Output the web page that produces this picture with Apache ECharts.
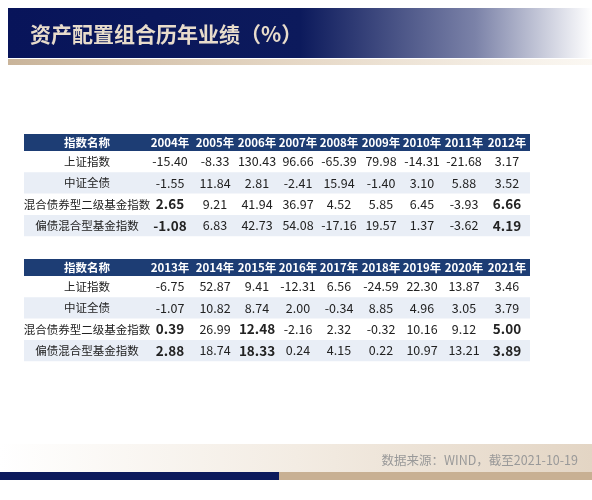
<!DOCTYPE html>
<html>
<head>
<meta charset="utf-8">
<script src="https://cdn.jsdelivr.net/npm/echarts@6/dist/echarts.min.js"></script>
<style>html,body{margin:0;padding:0;background:#fff}#chart{width:592px;height:500px}</style>
</head>
<body>
<div id="chart"></div>
<script>
// 指数名称
const names = ['上证指数', '中证全债', '混合债券型二级基金指数', '偏债混合型基金指数'];

// 第一张表
const years1 = ['2004年', '2005年', '2006年', '2007年', '2008年', '2009年', '2010年', '2011年', '2012年'];
const rows1 = [
	['-15.40', '-8.33', '130.43', '96.66', '-65.39', '79.98', '-14.31', '-21.68', '3.17'],
	['-1.55', '11.84', '2.81', '-2.41', '15.94', '-1.40', '3.10', '5.88', '3.52'],
	['2.65', '9.21', '41.94', '36.97', '4.52', '5.85', '6.45', '-3.93', '6.66'],
	['-1.08', '6.83', '42.73', '54.08', '-17.16', '19.57', '1.37', '-3.62', '4.19']
];
const boldCols1 = [0, 8];

// 第二张表
const years2 = ['2013年', '2014年', '2015年', '2016年', '2017年', '2018年', '2019年', '2020年', '2021年'];
const rows2 = [
	['-6.75', '52.87', '9.41', '-12.31', '6.56', '-24.59', '22.30', '13.87', '3.46'],
	['-1.07', '10.82', '8.74', '2.00', '-0.34', '8.85', '4.96', '3.05', '3.79'],
	['0.39', '26.99', '12.48', '-2.16', '2.32', '-0.32', '10.16', '9.12', '5.00'],
	['2.88', '18.74', '18.33', '0.24', '4.15', '0.22', '10.97', '13.21', '3.89']
];
const boldCols2 = [0, 2, 8];

const titleText = '资产配置组合历年业绩（%）';
const sourceText = '数据来源：WIND，截至2021-10-19';

const FONT = '"Noto Sans CJK SC", "Noto Sans", sans-serif';
const colX = [170, 215, 257, 298, 339, 381, 422, 464, 507];

// 构建一张表
const buildTable = (top, years, rows, boldCols) => {
	let els = [];
	let left = 24, right = 530, headH = 17, rowH = 21.3;

	els.push({ type: 'rect', shape: { x: left, y: top, width: right - left, height: headH }, style: { fill: '#1d3d74' } });
	els.push({ type: 'text', x: 87, y: top + headH / 2, style: { text: '指数名称', fill: '#fff', font: 'bold 11.5px ' + FONT, align: 'center', verticalAlign: 'middle' } });
	years.forEach((y, i) => {
		els.push({ type: 'text', x: colX[i], y: top + headH / 2, style: { text: y, fill: '#fff', font: 'bold 11.5px ' + FONT, align: 'center', verticalAlign: 'middle' } });
	});

	rows.forEach((r, ri) => {
		let y0 = top + headH + ri * rowH;
		if (ri % 2 === 1) {
			els.push({ type: 'rect', shape: { x: left, y: y0, width: right - left, height: rowH }, style: { fill: '#e9eef6' } });
		}
		els.push({ type: 'text', x: 87, y: y0 + rowH / 2, style: { text: names[ri], fill: '#222', font: '11.5px ' + FONT, align: 'center', verticalAlign: 'middle' } });
		r.forEach((v, ci) => {
			let bold = ri >= 2 && boldCols.indexOf(ci) >= 0;
			els.push({
				type: 'text', x: colX[ci], y: y0 + rowH / 2,
				style: { text: v, fill: '#222', font: (bold ? 'bold 13.5px ' : '12.5px ') + FONT, align: 'center', verticalAlign: 'middle' }
			});
		});
	});
	return els;
};

let graphics = [
	// 标题条
	{
		type: 'rect', shape: { x: 8, y: 8, width: 584, height: 50 },
		style: { fill: new echarts.graphic.LinearGradient(0, 0, 1, 0, [
			{ offset: 0, color: '#08145a' }, { offset: 0.5, color: '#0c1a5c' },
			{ offset: 0.8, color: '#7b82a8' }, { offset: 1, color: '#ffffff' }
		]) }
	},
	{
		type: 'rect', shape: { x: 8, y: 59, width: 584, height: 6 },
		style: { fill: new echarts.graphic.LinearGradient(0, 0, 1, 0, [
			{ offset: 0, color: '#c9b49a' }, { offset: 0.5, color: '#e6d8c6' }, { offset: 1, color: '#fbf8f3' }
		]) }
	},
	{ type: 'text', x: 30, y: 34, style: { text: titleText, fill: '#e8dccb', font: 'bold 21px ' + FONT, verticalAlign: 'middle' } },
	// 底部
	{
		type: 'rect', shape: { x: 0, y: 444, width: 592, height: 28 },
		style: { fill: new echarts.graphic.LinearGradient(0, 0, 1, 0, [
			{ offset: 0, color: '#ffffff' }, { offset: 0.5, color: '#f3ece3' }, { offset: 1, color: '#e3d5c4' }
		]) }
	},
	{ type: 'text', x: 578, y: 460, style: { text: sourceText, fill: '#999', font: '12.5px ' + FONT, align: 'right', verticalAlign: 'middle' } },
	{ type: 'rect', shape: { x: 0, y: 472, width: 279, height: 8 }, style: { fill: '#0c1a5c' } },
	{ type: 'rect', shape: { x: 279, y: 472, width: 313, height: 8 }, style: { fill: '#c8b093' } }
];

graphics = graphics.concat(buildTable(134, years1, rows1, boldCols1));
graphics = graphics.concat(buildTable(259, years2, rows2, boldCols2));

let chart = echarts.init(document.getElementById('chart'));
chart.setOption({ animation: false, graphic: { elements: graphics } });
</script>
</body>
</html>
